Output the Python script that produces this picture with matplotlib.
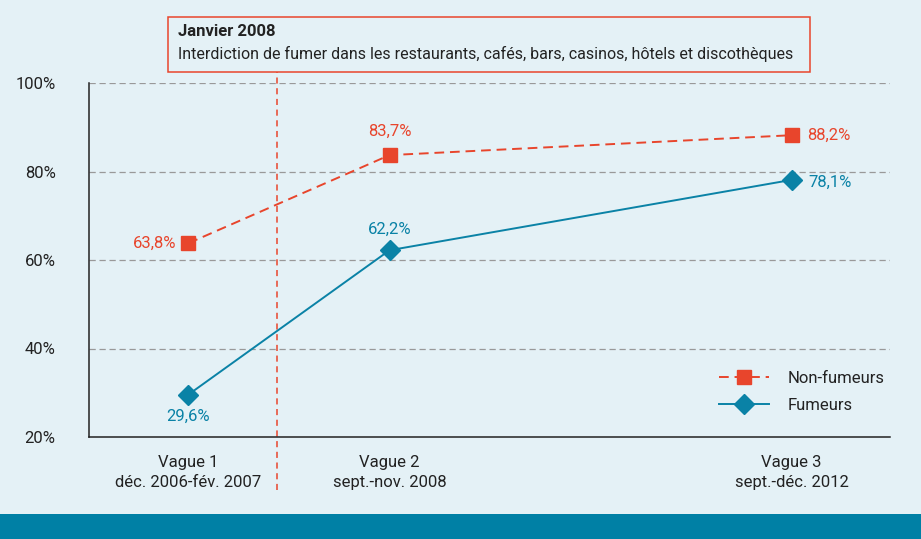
import matplotlib
matplotlib.use("Agg")
import matplotlib.pyplot as plt

# data
waves = ["Vague 1\ndéc. 2006-fév. 2007", "Vague 2\nsept.-nov. 2008", "Vague 3\nsept.-déc. 2012"]
wave_pos = [0, 1, 3]
non_fumeurs = [63.8, 83.7, 88.2]
fumeurs = [29.6, 62.2, 78.1]
yticks = [20, 40, 60, 80, 100]

RED = "#e8452c"
TEAL = "#0a82a6"
BG = "#e4f1f6"
DARK = "#222222"

plt.rcParams["font.family"] = ["Roboto", "DejaVu Sans"]

fig = plt.figure(figsize=(9.21, 5.39), dpi=100, facecolor=BG)
ax = fig.add_axes([89 / 921, 1 - 437 / 539, (890 - 89) / 921, (437 - 83) / 539])
ax.set_facecolor(BG)

ax.set_xlim(-0.495, 3.49)
ax.set_ylim(20, 100)

for y in yticks[1:]:
    ax.axhline(y, color="#999999", lw=0.9, ls=(0, (5, 3)), zorder=1)

ax.plot(wave_pos, non_fumeurs, color=RED, lw=1.4, ls=(0, (5, 3)), marker="s",
        ms=10, mec=RED, mfc=RED, zorder=3, label="Non-fumeurs")
ax.plot(wave_pos, fumeurs, color=TEAL, lw=1.4, marker="D", ms=10,
        mec=TEAL, mfc=TEAL, zorder=3, label="Fumeurs")

fmt = lambda v: f"{v:.1f}%".replace(".", ",")
fs = 12
ax.annotate(fmt(non_fumeurs[0]), (wave_pos[0], non_fumeurs[0]), xytext=(-9, 0),
            textcoords="offset points", ha="right", va="center", color=RED, fontsize=fs)
ax.annotate(fmt(non_fumeurs[1]), (wave_pos[1], non_fumeurs[1]), xytext=(0, 12),
            textcoords="offset points", ha="center", va="bottom", color=RED, fontsize=fs)
ax.annotate(fmt(non_fumeurs[2]), (wave_pos[2], non_fumeurs[2]), xytext=(11, 0),
            textcoords="offset points", ha="left", va="center", color=RED, fontsize=fs)
ax.annotate(fmt(fumeurs[0]), (wave_pos[0], fumeurs[0]), xytext=(0, -10),
            textcoords="offset points", ha="center", va="top", color=TEAL, fontsize=fs)
ax.annotate(fmt(fumeurs[1]), (wave_pos[1], fumeurs[1]), xytext=(0, 10),
            textcoords="offset points", ha="center", va="bottom", color=TEAL, fontsize=fs)
ax.annotate(fmt(fumeurs[2]), (wave_pos[2], fumeurs[2]), xytext=(12, -2),
            textcoords="offset points", ha="left", va="center", color=TEAL, fontsize=fs)

# ban of January 2008 - vertical dashed line
ban_x = 0.44
ax.axvline(ban_x, ymin=-0.15, ymax=1.03, color=RED, lw=1.1, ls=(0, (4, 3)),
           clip_on=False, zorder=2)

ax.set_yticks(yticks)
ax.set_yticklabels([f"{y}%" for y in yticks])
ax.set_xticks(wave_pos)
ax.set_xticklabels(waves, linespacing=1.4)
ax.tick_params(length=0, labelsize=12, colors=DARK)
ax.tick_params(axis="y", pad=24)
ax.tick_params(axis="x", pad=13)

for side in ["top", "right"]:
    ax.spines[side].set_visible(False)
for side in ["left", "bottom"]:
    ax.spines[side].set_color(DARK)
    ax.spines[side].set_linewidth(1.1)

leg = ax.legend(loc="lower right", bbox_to_anchor=(1.012, 0.025), frameon=False,
                fontsize=12, handlelength=3.0, labelspacing=0.75, handletextpad=1.1)
for t in leg.get_texts():
    t.set_color(DARK)

# annotation box at the top
fig.patches.append(plt.Rectangle((168 / 921, 1 - 72 / 539), (810 - 168) / 921, 55 / 539,
                                 transform=fig.transFigure, fill=False, ec=RED, lw=1.1))
fig.text(178 / 921, 1 - 31 / 539, "Janvier 2008", fontsize=12, fontweight="bold",
         color=DARK, va="center")
fig.text(178 / 921, 1 - 54 / 539,
         "Interdiction de fumer dans les restaurants, cafés, bars, casinos, hôtels et discothèques",
         fontsize=11.5, color=DARK, va="center")

# bottom band
fig.patches.append(plt.Rectangle((0, 0), 1, 25 / 539, transform=fig.transFigure,
                                 fc="#0080a5", ec="none"))

fig.savefig("out.png", dpi=100, facecolor=BG)
